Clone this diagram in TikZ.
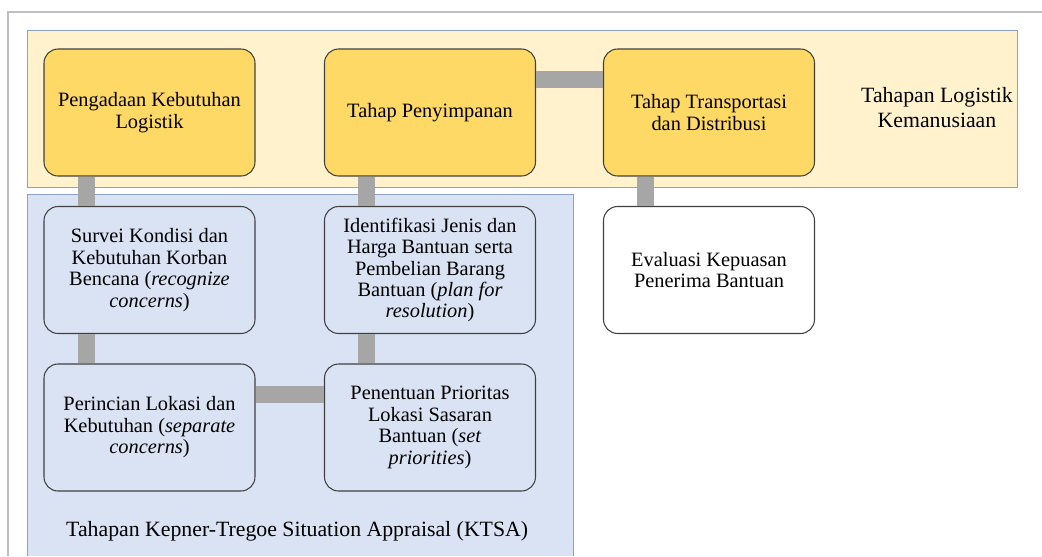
\documentclass[tikz,border=0pt]{standalone}
\usepackage{fontspec}
\setmainfont{Liberation Serif}
\definecolor{kuningTua}{HTML}{FFD966}
\definecolor{kuningMuda}{HTML}{FFF2CC}
\definecolor{biruMuda}{HTML}{DAE3F3}
\definecolor{biruGaris}{HTML}{8FAADC}
\definecolor{abuGaris}{HTML}{A6A6A6}
\begin{document}
\begin{tikzpicture}[x=0.02cm, y=-0.02cm]
\tikzset{
    kotak/.style={rectangle, rounded corners=0.28cm, semithick, draw=black!75,
                  minimum width=4.22cm, minimum height=2.54cm, align=center,
                  font=\fontsize{11.6}{12.2}\selectfont},
    tahap/.style={kotak, fill=kuningTua},
    ktsa/.style={kotak, fill=biruMuda},
    evaluasi/.style={kotak, fill=white},
    penghubung/.style={-, line width=0.34cm, abuGaris},
    label/.style={align=center, font=\fontsize{12.4}{14.2}\selectfont}
}
\useasboundingbox (0,0) rectangle (1042,556);

% Bingkai dan latar
\draw[black!25, semithick] (8,556) |- (1042,12);
\filldraw[fill=kuningMuda, draw=biruGaris!80!gray] (27,30) rectangle (1017,187);
\fill[biruMuda] (27,194) rectangle (573,556);
\draw[biruGaris!80!gray] (27,556) |- (573,194) -- (573,556);

% Tahapan logistik
\node[tahap] (n1) at (149.5,112.5) {Pengadaan Kebutuhan\\Logistik};
\node[tahap] (n2) at (430,112.5)   {Tahap Penyimpanan};
\node[tahap] (n3) at (709,112.5)   {Tahap Transportasi\\dan Distribusi};

% Tahapan KTSA
\node[ktsa] (b1) at (149.5,270) {Survei Kondisi dan\\Kebutuhan Korban\\Bencana (\textit{recognize}\\\textit{concerns})};
\node[ktsa] (b2) at (430,270)   {Identifikasi Jenis dan\\Harga Bantuan serta\\Pembelian Barang\\Bantuan (\textit{plan for}\\\textit{resolution})};
\node[ktsa] (b3) at (149.5,427.5) {Perincian Lokasi dan\\Kebutuhan (\textit{separate}\\\textit{concerns})};
\node[ktsa] (b4) at (430,427.5)   {Penentuan Prioritas\\Lokasi Sasaran\\Bantuan (\textit{set}\\\textit{priorities})};

% Evaluasi
\node[evaluasi] (ev) at (709,270) {Evaluasi Kepuasan\\Penerima Bantuan};

% Penghubung
\draw[penghubung] ([xshift=0.86cm]n1.south west) -- ([xshift=0.86cm]b1.north west);
\draw[penghubung] ([xshift=0.86cm]n2.south west) -- ([xshift=0.86cm]b2.north west);
\draw[penghubung] ([xshift=0.86cm]n3.south west) -- ([xshift=0.86cm]ev.north west);
\draw[penghubung] ([xshift=0.86cm]b1.south west) -- ([xshift=0.86cm]b3.north west);
\draw[penghubung] ([xshift=0.86cm]b2.south west) -- ([xshift=0.86cm]b4.north west);
\draw[penghubung] ([yshift=-0.62cm]n2.north east) -- ([yshift=-0.62cm]n3.north west);
\draw[penghubung] ([yshift=-0.62cm]b3.north east) -- ([yshift=-0.62cm]b4.north west);

% Keterangan
\node[label] (lg) at (937,108) {Tahapan Logistik\\Kemanusiaan};
\node[label, anchor=west] (lk) at (60,531) {Tahapan Kepner-Tregoe Situation Appraisal (KTSA)};
\end{tikzpicture}
\end{document}
